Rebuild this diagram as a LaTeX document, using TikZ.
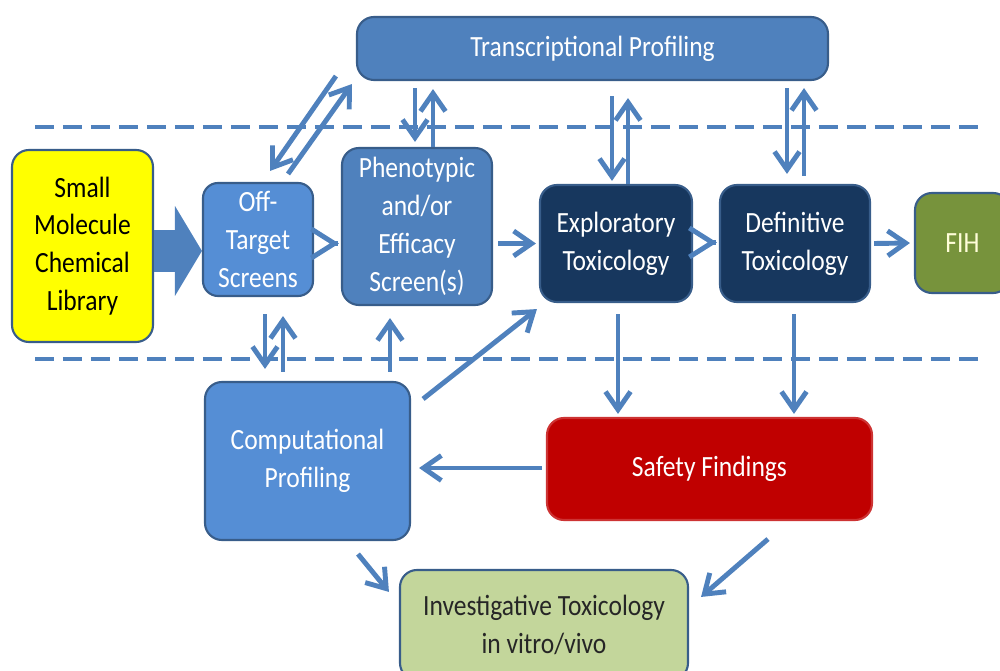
\documentclass[tikz,border=0pt]{standalone}
\usepackage{fontspec}
\setmainfont{Carlito}[FakeStretch=0.87]
\usetikzlibrary{arrows.meta,calc}

\definecolor{flowblue}{RGB}{79,129,189}
\definecolor{boxline}{RGB}{56,93,138}
\definecolor{midblue}{RGB}{79,129,189}
\definecolor{lightblue}{RGB}{85,142,213}
\definecolor{navy}{RGB}{23,55,94}
\definecolor{olivegreen}{RGB}{119,147,60}
\definecolor{alarmred}{RGB}{192,0,0}
\definecolor{palegreen}{RGB}{195,214,155}
\definecolor{libyellow}{RGB}{255,255,0}

\tikzset{
  box/.style={draw=boxline, line width=1.2pt, rounded corners=0.34cm, inner sep=0pt,
    align=center, text=white, font=\fontsize{16.7}{21.5}\selectfont},
  wh/.style 2 args={minimum width=#1*0.02cm, minimum height=#2*0.02cm},
  flow/.style={flowblue, line width=2.8pt, -{Straight Barb[length=0.36cm,width=0.5cm]}},
  chevron/.style={flowblue, line width=2.8pt, -{Straight Barb[length=0.46cm,width=0.58cm]}},
  bigarrow/.style={flowblue, line width=0.84cm, -{Triangle[length=0.54cm,width=1.8cm,line width=0pt]}},
  phase/.style={flowblue, line width=2.8pt, dash pattern=on 0.38cm off 0.18cm}
}

\begin{document}
\begin{tikzpicture}[x=0.02cm, y=-0.02cm]
\clip (0,0) rectangle (1000,671);

% stage separators
\draw[phase] (35,127) -- (985,127);
\draw[phase] (35,359) -- (985,359);

% boxes
\node[box, fill=midblue, wh={471}{63}] (trans) at (592.5,48.5) {Transcriptional Profiling};
\node[box, fill=libyellow, text=black, wh={141}{192}] (lib) at (82.5,246) {Small\\Molecule\\Chemical\\Library};
\node[box, fill=lightblue, wh={110}{113}, rounded corners=0.3cm] (off) at (258,239.5) {Off-\\Target\\Screens};
\node[box, fill=midblue, wh={150}{157}] (pheno) at (417,226.5) {Phenotypic\\and/or\\Efficacy\\Screen(s)};
\node[box, fill=navy, wh={152}{117}] (expl) at (616,243.5) {Exploratory\\Toxicology};
\node[box, fill=navy, wh={150}{117}] (defi) at (795,243.5) {Definitive\\Toxicology};
\node[box, fill=olivegreen, text=white!85!yellow, wh={95}{100}] (fih) at (962.5,243) {FIH};
\node[box, fill=lightblue, wh={205}{158}] (comp) at (307.5,461) {Computational\\Profiling};
\node[box, fill=alarmred, draw=alarmred!80!white, wh={325}{102}] (safety) at (709.5,469) {Safety Findings};
\node[box, fill=palegreen, text=black!85, wh={288}{110}] (invest) at (544,625) {Investigative Toxicology\\in vitro/vivo};

% main pipeline
\draw[bigarrow] ($(lib.east)+(0,5)$) -- ($(off.west |- lib.east)+(0,5)$);
\draw[chevron] ($(pheno.west |- off.east)+(-3,4)$) -- ($(pheno.west |- off.east)+(-2,4)$);
\draw[flow] ($(pheno.east |- expl.west)+(5,0)$) -- ($(expl.west)+(-3,0)$);
\draw[chevron] ($(defi.west)+(-3,-1)$) -- ($(defi.west)+(-2,-1)$);
\draw[flow] ($(defi.east)+(3,0)$) -- ($(fih.west)+(-4,0)$);

% transcriptional profiling links
\draw[flow] ($(trans.south west)+(-20,-5)$) -- ($(off.north)+(12,-11)$);
\draw[flow] ($(off.north)+(30,-8)$) -- ($(trans.south west)+(-4,3)$);
\draw[flow] ($(pheno.north |- trans.south)+(-2,7)$) -- ($(pheno.north)+(-2,-5)$);
\draw[flow] ($(pheno.north)+(16,0)$) -- ($(pheno.north |- trans.south)+(16,8)$);
\draw[flow] ($(expl.north |- trans.south)+(-4,15)$) -- ($(expl.north)+(-4,-3)$);
\draw[flow] ($(expl.north)+(12,0)$) -- ($(expl.north |- trans.south)+(12,17)$);
\draw[flow] ($(defi.north |- trans.south)+(-8,7)$) -- ($(defi.north)+(-8,-10)$);
\draw[flow] ($(defi.north)+(9,-8)$) -- ($(defi.north |- trans.south)+(9,7)$);

% computational profiling links
\draw[flow] ($(off.south)+(7,17)$) -- ($(off.south |- comp.north)+(7,-12)$);
\draw[flow] ($(off.south |- comp.north)+(25,-9)$) -- ($(off.south)+(25,19)$);
\draw[flow] ($(pheno.south |- comp.north)+(-27,-9)$) -- ($(pheno.south)+(-27,12)$);
\draw[flow] ($(comp.north east)+(12,18)$) -- ($(expl.south west)+(-2,6)$);

% safety findings
\draw[flow] ($(expl.south)+(2,11)$) -- ($(expl.south |- safety.north)+(2,-3)$);
\draw[flow] ($(defi.south)+(-1,11)$) -- ($(defi.south |- safety.north)+(-1,-3)$);
\draw[flow] ($(safety.west)+(-4,-1)$) -- ($(comp.east |- safety.west)+(8,-1)$);

% investigative toxicology
\draw[flow] ($(comp.south)+(50.5,13)$) -- ($(invest.north west)+(-10,23)$);
\draw[flow] ($(safety.south)+(58.5,18)$) -- ($(invest.north east)+(12,28)$);
\end{tikzpicture}
\end{document}
